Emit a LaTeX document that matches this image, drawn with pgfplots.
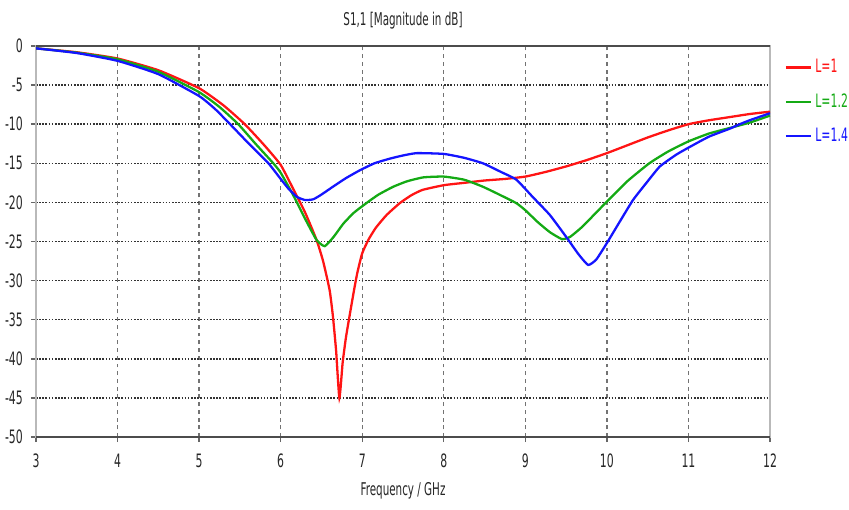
\documentclass[border=0pt]{standalone}
\usepackage{fontspec}
\setmainfont{DejaVu Sans}[FakeStretch=0.59]
\usepackage{pgfplots}
\pgfplotsset{compat=1.18}

\definecolor{cstred}{RGB}{255,20,20}
\definecolor{cstgreen}{RGB}{20,170,20}
\definecolor{cstblue}{RGB}{20,20,255}

\begin{document}
\begin{tikzpicture}
\begin{axis}[
  scale only axis,
  width=14.68cm, height=7.82cm,
  xmin=3, xmax=12, ymin=-50, ymax=0,
  xtick={3,...,12}, ytick={-50,-45,...,0},
  xtick pos=bottom, ytick pos=left,
  tick align=outside,
  major tick length=0.1cm,
  tick style={black!60, line width=0.8pt},
  axis line style={draw=gray!55, line width=1.2pt},
  grid=major,
  x grid style={black!55, line width=0.7pt, dash pattern=on 2.2pt off 2.2pt},
  y grid style={black!80, line width=0.8pt, dash pattern=on 0.9pt off 0.9pt},
  /pgf/number format/assume math mode=true,
  tick label style={font=\fontsize{10.5}{12}\selectfont, text=black!85},
  xticklabel style={yshift=-0.12cm},
  yticklabel style={xshift=-0.04cm},
  xlabel={Frequency / GHz},
  xlabel style={font=\fontsize{10}{12}\selectfont, text=black!85, yshift=-0.05cm},
  title={S1,1 [Magnitude in dB]},
  title style={font=\fontsize{10}{12}\selectfont, text=black!85, yshift=0cm},
  legend style={draw=none, fill=none, at={(1,1)}, anchor=north west,
    xshift=0.18cm, yshift=-0.12cm, row sep=0.22cm,
    font=\fontsize{10.5}{12}\selectfont},
  legend cell align=left,
  legend image code/.code={\draw[#1] (0cm,0cm) -- (0.5cm,0cm);},
  every axis plot/.append style={line width=1.3pt, smooth, tension=0.3},
]
\addplot[cstred] coordinates {
  (3.0,-0.3) (3.5,-0.8) (4.0,-1.6) (4.5,-3.1) (5.0,-5.4) (5.3,-7.6)
  (5.56,-10.0) (5.8,-12.7) (6.0,-15.2) (6.15,-18.2) (6.3,-21.3)
  (6.44,-24.8) (6.52,-27.5) (6.60,-31.2) (6.64,-34.5) (6.68,-39.0)
  (6.72,-45.0) (6.76,-40.5) (6.80,-37.3) (6.85,-34.2) (6.90,-31.2)
  (6.94,-29.0) (7.0,-26.5) (7.08,-24.7) (7.17,-23.2) (7.3,-21.6) (7.46,-20.1)
  (7.6,-19.1) (7.74,-18.4) (8.0,-17.8) (8.25,-17.5) (8.5,-17.2)
  (8.75,-17.0) (9.0,-16.7) (9.25,-16.1) (9.5,-15.4) (9.75,-14.6)
  (10.0,-13.7) (10.25,-12.7) (10.5,-11.7) (10.75,-10.8) (11.0,-10.0)
  (11.25,-9.5) (11.5,-9.1) (11.75,-8.7) (12.0,-8.4)
};
\addlegendentry{\textcolor{cstred}{L=1}}
\addplot[cstgreen] coordinates {
  (3.0,-0.3) (3.5,-0.85) (4.0,-1.7) (4.5,-3.3) (5.0,-5.9) (5.25,-7.8)
  (5.48,-10.0) (5.7,-12.6) (5.91,-15.0) (6.0,-16.2) (6.15,-19.0)
  (6.3,-22.1) (6.44,-24.8) (6.54,-25.6) (6.65,-24.4) (6.77,-22.7)
  (6.9,-21.3) (7.05,-20.1) (7.2,-19.0) (7.38,-18.0) (7.55,-17.3)
  (7.75,-16.8) (8.0,-16.7) (8.25,-17.1) (8.48,-18.0) (8.7,-19.1)
  (8.89,-20.1) (9.0,-21.0) (9.15,-22.5) (9.3,-23.8) (9.45,-24.7)
  (9.55,-24.4) (9.7,-23.1) (9.85,-21.5) (10.0,-19.9) (10.25,-17.3)
  (10.52,-15.0) (10.75,-13.5) (11.0,-12.2) (11.25,-11.2) (11.5,-10.5)
  (11.75,-9.8) (12.0,-8.9)
};
\addlegendentry{\textcolor{cstgreen}{L=1.2}}
\addplot[cstblue] coordinates {
  (3.0,-0.3) (3.5,-0.9) (4.0,-1.9) (4.5,-3.6) (5.0,-6.4) (5.2,-8.1)
  (5.38,-10.0) (5.62,-12.6) (5.85,-15.0) (6.0,-17.0) (6.1,-18.3)
  (6.2,-19.3) (6.3,-19.7) (6.4,-19.6) (6.5,-19.0) (6.64,-18.0)
  (6.8,-16.9) (6.97,-15.9) (7.15,-15.0) (7.34,-14.4) (7.5,-14.0)
  (7.67,-13.7) (8.0,-13.8) (8.25,-14.3) (8.48,-15.0) (8.7,-16.1)
  (8.89,-17.1) (9.09,-19.3) (9.3,-21.6) (9.5,-24.4) (9.65,-26.6)
  (9.77,-28.0) (9.87,-27.3) (10.0,-25.2) (10.15,-22.6) (10.32,-19.7)
  (10.5,-17.3) (10.65,-15.4) (10.85,-13.9) (11.0,-13.0) (11.25,-11.6)
  (11.5,-10.6) (11.63,-10.0) (11.75,-9.5) (12.0,-8.6)
};
\addlegendentry{\textcolor{cstblue}{L=1.4}}
\draw[black!70, line width=1.6pt] (rel axis cs:0,0) -- (rel axis cs:1,0);
\draw[black!70, line width=1.6pt] (rel axis cs:0,1) -- (rel axis cs:1,1);
\coordinate (sw) at (rel axis cs:0,0);
\coordinate (ne) at (rel axis cs:1,1);
\end{axis}
\pgfresetboundingbox
\path[use as bounding box] ([shift={(-0.72cm,-1.44cm)}]sw) rectangle ([shift={(1.58cm,0.92cm)}]ne);
\end{tikzpicture}
\end{document}
